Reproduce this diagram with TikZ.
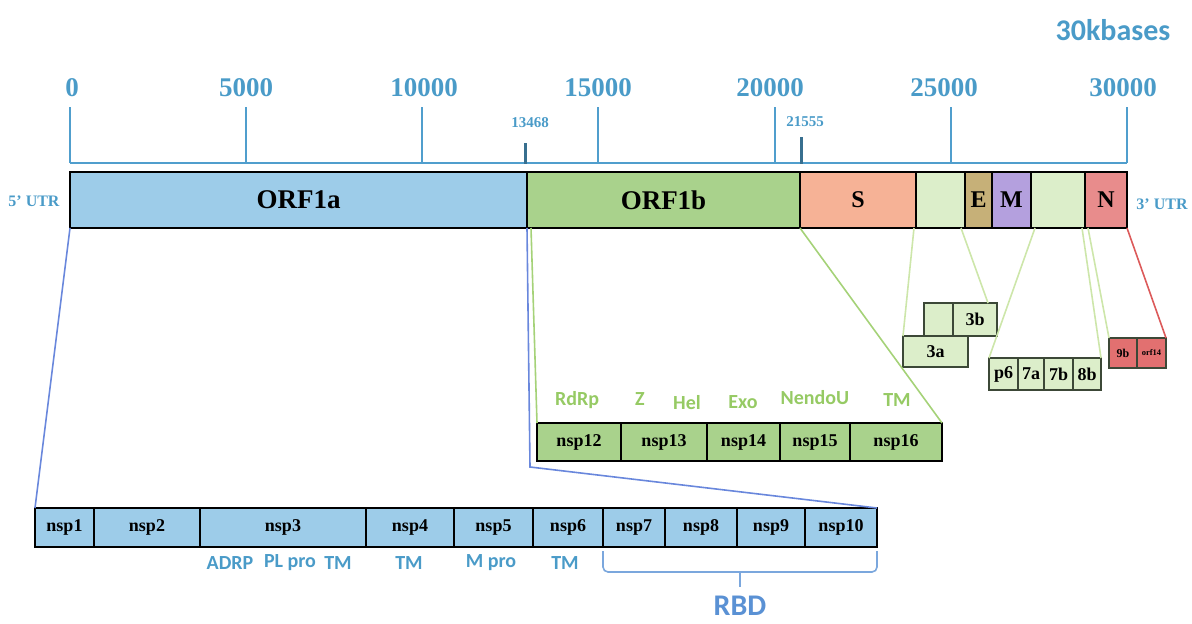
\documentclass[tikz,border=0pt]{standalone}
\usepackage{fontspec}
\setmainfont{Liberation Serif}
\newfontfamily\calibri{Carlito}
\usetikzlibrary{calc}

\definecolor{axisblue}{RGB}{80,158,205}
\definecolor{txtblue}{RGB}{74,155,200}
\definecolor{orfblue}{RGB}{157,204,233}
\definecolor{orfgreen}{RGB}{169,210,140}
\definecolor{spike}{RGB}{246,178,150}
\definecolor{pale}{RGB}{220,238,202}
\definecolor{envel}{RGB}{198,176,120}
\definecolor{memb}{RGB}{180,160,222}
\definecolor{nucl}{RGB}{232,140,140}
\definecolor{redbox}{RGB}{226,112,112}
\definecolor{linkblue}{RGB}{105,135,220}
\definecolor{linkgreen}{RGB}{165,210,120}
\definecolor{linkpale}{RGB}{205,230,170}
\definecolor{linkred}{RGB}{220,90,90}
\definecolor{domgreen}{RGB}{150,202,100}
\definecolor{rbdblue}{RGB}{90,145,212}

% box from its corners: name, x1, y1, x2, y2, style, text
\newcommand\gbox[7]{%
  \node[seg,#6,minimum width={#4-#2},minimum height={#5-#3}] (#1) at (#2,#3) {#7};}

\tikzset{
  seg/.style={draw=black, line width=1.8, inner sep=0, outer sep=0,
    anchor=north west, text=black, font=\bfseries\fontsize{18}{18}\selectfont},
  big/.style={font=\bfseries\fontsize{27}{27}\selectfont},
  mid/.style={font=\bfseries\fontsize{24}{24}\selectfont},
  small/.style={font=\bfseries\fontsize{18}{18}\selectfont},
  acc/.style={draw={rgb,255:red,60;green,72;blue,55}},
  axisline/.style={draw=axisblue, line width=2.6},
  ticklabel/.style={text=txtblue, font=\bfseries\fontsize{27}{27}\selectfont, inner sep=0},
  posnum/.style={text=txtblue, font=\bfseries\fontsize{15}{15}\selectfont, inner sep=0},
  utr/.style={text=txtblue, font=\bfseries\fontsize{16}{16}\selectfont, inner sep=0},
  dom/.style={text=txtblue, font=\calibri\bfseries\fontsize{20}{20}\selectfont, inner sep=0},
  gdom/.style={text=domgreen, font=\calibri\bfseries\fontsize{20}{20}\selectfont, inner sep=0},
  link/.style={line width=1.6},
}

\begin{document}
\begin{tikzpicture}[x=1pt,y=-1pt]
\useasboundingbox (0,0) rectangle (1192,624);

% genome length
\node[text=txtblue, font=\calibri\bfseries\fontsize{30}{30}\selectfont] (len) at (1113,30) {30kbases};

% scale axis
\draw[axisline] (70,163) -- (1127,163);
\foreach \x/\v/\lx in {70/0/72, 246/5000/246, 422/10000/424, 598/15000/598,
                        775/20000/770, 951/25000/944, 1127/30000/1123}{
  \draw[axisline] (\x,107) -- (\x,163);
  \node[ticklabel] at (\lx,88) {\v};
}
\draw[draw=axisblue!70!black, line width=3] (525,143) -- (525,164);
\node[posnum] (p13468) at (530,123) {13468};
\draw[draw=axisblue!70!black, line width=3] (801,137) -- (801,164);
\node[posnum] (p21555) at (805,122) {21555};

% genome bar
\gbox{orf1a}{70}{172}{527}{228}{fill=orfblue,big}{ORF1a}
\gbox{orf1b}{527}{172}{800}{228}{fill=orfgreen,big}{ORF1b}
\gbox{sgene}{800}{172}{916}{228}{fill=spike,mid}{S}
\gbox{gA}{916}{172}{965}{228}{fill=pale}{}
\gbox{egene}{965}{172}{992}{228}{fill=envel,mid}{E}
\gbox{mgene}{992}{172}{1031}{228}{fill=memb,mid}{M}
\gbox{gB}{1031}{172}{1085}{228}{fill=pale}{}
\gbox{ngene}{1085}{172}{1127}{228}{fill=nucl,mid}{N}
\node[utr] (utr5) at (34,201) {5' UTR};
\node[utr] (utr3) at (1162,204) {3' UTR};

% ORF1a products
\gbox{nsp1}{35}{508}{94}{547}{fill=orfblue}{nsp1}
\gbox{nsp2}{94}{508}{200}{547}{fill=orfblue}{nsp2}
\gbox{nsp3}{200}{508}{366}{547}{fill=orfblue}{nsp3}
\gbox{nsp4}{366}{508}{454}{547}{fill=orfblue}{nsp4}
\gbox{nsp5}{454}{508}{533}{547}{fill=orfblue}{nsp5}
\gbox{nsp6}{533}{508}{603}{547}{fill=orfblue}{nsp6}
\gbox{nsp7}{603}{508}{665}{547}{fill=orfblue}{nsp7}
\gbox{nsp8}{665}{508}{737}{547}{fill=orfblue}{nsp8}
\gbox{nsp9}{737}{508}{805}{547}{fill=orfblue}{nsp9}
\gbox{nsp10}{805}{508}{877}{547}{fill=orfblue}{nsp10}

\node[dom] at (230,563) {ADRP};
\node[dom] at (290,563) {PL pro};
\node[dom] at (338,563) {TM};
\node[dom] at (409,563) {TM};
\node[dom] at (491,563) {M pro};
\node[dom] at (565,563) {TM};

% RBD bracket
\coordinate (rbdL) at ($(nsp7.south west)+(0,4)$);
\coordinate (rbdR) at ($(nsp10.south east)+(0,4)$);
\draw[draw=rbdblue!80, line width=1.6, rounded corners=5]
  (rbdL) -- ++(0,21) -| (rbdR);
\coordinate (rbdM) at ($(rbdL)!0.5!(rbdR)+(0,21)$);
\draw[draw=rbdblue!80, line width=1.6] (rbdM) -- ++(0,15);
\node[text=rbdblue, font=\calibri\bfseries\fontsize{30}{30}\selectfont] (rbd) at (740,606) {RBD};

% ORF1b products
\gbox{nsp12}{537}{423}{621}{461}{fill=orfgreen}{nsp12}
\gbox{nsp13}{621}{423}{707}{461}{fill=orfgreen}{nsp13}
\gbox{nsp14}{707}{423}{780}{461}{fill=orfgreen}{nsp14}
\gbox{nsp15}{780}{423}{850}{461}{fill=orfgreen}{nsp15}
\gbox{nsp16}{850}{423}{942}{461}{fill=orfgreen}{nsp16}

\node[gdom] at (577,400) {RdRp};
\node[gdom] at (640,399) {Z};
\node[gdom] at (687,403) {Hel};
\node[gdom] at (743,402) {Exo};
\node[gdom] at (815,398) {NendoU};
\node[gdom] at (897,400) {TM};

% accessory proteins
\gbox{c3x}{924}{303}{953}{336}{fill=pale,acc}{}
\gbox{c3b}{953}{303}{997}{336}{fill=pale,acc,small}{3b}
\gbox{c3a}{903}{336}{968}{367}{fill=pale,acc,small}{3a}
\gbox{p6}{989}{358}{1018}{390}{fill=pale,acc,small}{p6}
\gbox{c7a}{1018}{358}{1044}{390}{fill=pale,acc,small}{7a}
\gbox{c7b}{1044}{358}{1073}{390}{fill=pale,acc,small}{7b}
\gbox{c8b}{1073}{358}{1101}{390}{fill=pale,acc,small}{8b}
\gbox{c9b}{1109}{338}{1137}{368}{fill=redbox,acc,font=\bfseries\fontsize{12}{12}\selectfont}{9b}
\gbox{orf14}{1137}{338}{1166}{368}{fill=redbox,acc,font=\bfseries\fontsize{8.5}{8.5}\selectfont}{orf14}

% connectors
\coordinate (bend) at (530,467);
\draw[link, draw=linkblue] (orf1a.south west) -- (nsp1.north west);
\draw[link, draw=linkblue] (orf1b.south west) -- (bend) -- (nsp10.north east);
\draw[link, draw=linkgreen] ($(orf1b.south west)+(4,0)$) -- (nsp12.north west);
\draw[link, draw=linkgreen] (sgene.south west) -- (nsp16.north east);
\draw[link, draw=linkpale] ($(gA.south west)+(-2,0)$) -- (c3a.north west);
\draw[link, draw=linkpale] ($(gA.south east)+(-4,0)$) -- ($(c3b.north east)+(-9,0)$);
\draw[link, draw=linkpale] ($(gB.south west)+(4,0)$) -- (p6.north west);
\draw[link, draw=linkpale] ($(gB.south east)+(-3,0)$) -- (c8b.north east);
\draw[link, draw=linkpale] ($(ngene.south west)+(3,0)$) -- (c9b.north west);
\draw[link, draw=linkred] (ngene.south east) -- (orf14.north east);
\end{tikzpicture}
\end{document}
